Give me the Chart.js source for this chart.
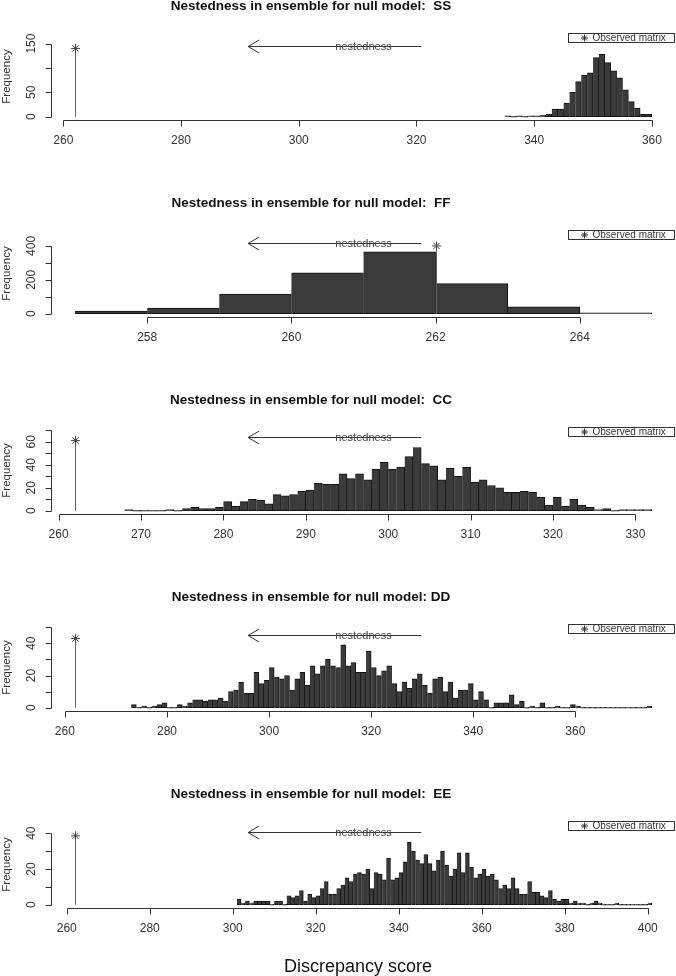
<!DOCTYPE html>
<html>
<head>
<meta charset="utf-8">
<title>Nestedness in ensemble</title>
<script src="https://cdn.jsdelivr.net/npm/chart.js@4.4.1/dist/chart.umd.min.js"></script>
<style>
  html, body { margin: 0; padding: 0; background: #fff; overflow: hidden; }
  #wrap { position: relative; width: 676px; height: 976px; }
  #wrap canvas { position: absolute; left: 0; }
</style>
</head>
<body>
<div id="wrap"></div>
<script>
// One histogram panel per null model
const models = ['SS', 'FF', 'CC', 'DD', 'EE'];
const titleGap = ['  ', '  ', '  ', ' ', '  '];

// Histogram counts, bins one unit wide, first bin starts at binStart
const binStart = [335, 257, 268, 273, 301];
const ssCounts = [1, 0, 1, 0, 1, 2, 3, 5, 16, 16, 28, 50, 72, 85, 90, 121, 128, 111, 94, 80, 55, 31, 18, 5, 5];
const ffCounts = [16, 34, 116, 241, 365, 178, 41, 5];
const ccCounts = [1, 0, 0, 0, 0, 1, 0, 2, 3, 2,
                  2, 3, 8, 4, 8, 10, 9, 6, 14, 13,
                  14, 17, 18, 24, 23, 23, 32, 28, 32, 27,
                  36, 42, 36, 38, 47, 55, 41, 39, 27, 37,
                  30, 38, 25, 27, 22, 20, 16, 16, 17, 16,
                  12, 5, 12, 4, 10, 5, 3, 1, 2, 0,
                  1, 1, 1, 1];
const ddCounts = [2, 0, 1, 0, 1, 2, 3, 0, 0, 2,
                  1, 3, 5, 5, 4, 5, 5, 6, 4, 10,
                  11, 16, 9, 9, 22, 15, 17, 25, 19, 18,
                  20, 11, 18, 22, 14, 26, 21, 26, 30, 26,
                  25, 39, 26, 28, 22, 22, 35, 25, 20, 23,
                  26, 15, 10, 16, 12, 18, 21, 14, 9, 18,
                  19, 10, 16, 6, 11, 11, 15, 5, 10, 5,
                  0, 3, 3, 3, 8, 2, 4, 0, 1, 0,
                  3, 0, 0, 1, 0, 0, 2, 1, 0, 0,
                  0, 0, 0, 0, 0, 0, 0, 0, 0, 0,
                  0, 1];
const eeCounts = [3, 1, 2, 1, 2, 2, 2, 2, 0, 2,
                  2, 0, 5, 4, 5, 8, 2, 6, 4, 5,
                  9, 13, 6, 6, 9, 11, 15, 13, 17, 18,
                  17, 20, 9, 18, 17, 14, 26, 14, 15, 18,
                  24, 35, 30, 25, 23, 28, 23, 19, 25, 30,
                  22, 16, 20, 29, 18, 29, 21, 15, 17, 20,
                  16, 17, 14, 9, 11, 9, 15, 9, 6, 6,
                  13, 7, 7, 5, 4, 8, 3, 2, 3, 3,
                  1, 2, 1, 1, 0, 1, 2, 1, 0, 0,
                  0, 1, 0, 0, 0, 0, 0, 0, 0, 1];
const allCounts = [ssCounts, ffCounts, ccCounts, ddCounts, eeCounts];

// Observed matrix score, marker height and the "nestedness" arrow
const observed = 262;
const observedHeight = [140, 400, 61, 43, 38.5];
const arrowHeight = [145, 420, 64, 45, 40.5];
const arrowFrom = [320.8, 261.8, 304, 329.8, 345.4];
const arrowTo = [291.4, 259.4, 283, 295.9, 303.7];
const arrowLabelAt = [311, 261, 297, 318.5, 331.5];

// Axis limits and ticks
const xLimits = [[262, 360], [257, 265], [262, 332], [262, 375], [262, 401]];
const yLimits = [165, 475, 70, 50, 45];
const xTicks = [
  [260, 280, 300, 320, 340, 360],
  [258, 260, 262, 264],
  [260, 270, 280, 290, 300, 310, 320, 330],
  [260, 280, 300, 320, 340, 360],
  [260, 280, 300, 320, 340, 360, 380, 400]
];
const yTicks = [
  [0, 50, 100, 150],
  [0, 100, 200, 300, 400],
  [0, 10, 20, 30, 40, 50, 60, 70],
  [0, 10, 20, 30, 40, 50],
  [0, 10, 20, 30, 40]
];
const yTickLabels = [
  ['0', '50', '', '150'],
  ['0', '', '200', '', '400'],
  ['0', '', '20', '', '40', '', '60', ''],
  ['0', '', '20', '', '40', ''],
  ['0', '', '20', '', '40']
];

const FONT = '"Liberation Sans", Arial, sans-serif';
const PANEL_H = 197;

function asterisk(ctx, x, y, r) {
  ctx.beginPath();
  ctx.moveTo(x - r, y); ctx.lineTo(x + r, y);
  ctx.moveTo(x, y - r); ctx.lineTo(x, y + r);
  ctx.moveTo(x - r * 0.7, y - r * 0.7); ctx.lineTo(x + r * 0.7, y + r * 0.7);
  ctx.moveTo(x - r * 0.7, y + r * 0.7); ctx.lineTo(x + r * 0.7, y - r * 0.7);
  ctx.stroke();
}

// R style axes, titles, marker, arrow and legend
const rStyle = {
  id: 'rStyle',
  afterDatasetsDraw(chart, args, opts) {
    const p = opts.panel;
    const ctx = chart.ctx;
    const xs = chart.scales.x, ys = chart.scales.y;
    const area = chart.chartArea;
    ctx.save();
    ctx.lineWidth = 1;
    ctx.strokeStyle = '#333';
    ctx.fillStyle = '#333';

    // x axis
    const xt = xTicks[p];
    const xb = Math.round(area.bottom) + 0.5;
    ctx.beginPath();
    ctx.moveTo(Math.round(xs.getPixelForValue(xt[0])) + 0.5, xb);
    ctx.lineTo(Math.round(xs.getPixelForValue(xt[xt.length - 1])) + 0.5, xb);
    xt.forEach(v => {
      const px = Math.round(xs.getPixelForValue(v)) + 0.5;
      ctx.moveTo(px, xb);
      ctx.lineTo(px, xb + 6);
    });
    ctx.stroke();
    ctx.font = '12px ' + FONT;
    ctx.textAlign = 'center';
    ctx.textBaseline = 'middle';
    xt.forEach(v => ctx.fillText(String(v), xs.getPixelForValue(v), area.bottom + 21));

    // y axis
    const yt = yTicks[p];
    const yl = Math.round(area.left) - 0.5;
    ctx.beginPath();
    ctx.moveTo(yl, Math.round(ys.getPixelForValue(yt[0])) + 0.5);
    ctx.lineTo(yl, Math.round(ys.getPixelForValue(yt[yt.length - 1])) + 0.5);
    yt.forEach(v => {
      const py = Math.round(ys.getPixelForValue(v)) + 0.5;
      ctx.moveTo(yl, py);
      ctx.lineTo(yl - 6, py);
    });
    ctx.stroke();
    yt.forEach((v, i) => {
      if (!yTickLabels[p][i]) return;
      ctx.save();
      ctx.translate(area.left - 20, ys.getPixelForValue(v));
      ctx.rotate(-Math.PI / 2);
      ctx.fillText(yTickLabels[p][i], 0, 0);
      ctx.restore();
    });
    ctx.save();
    ctx.font = '11.5px ' + FONT;
    ctx.translate(7, (area.top + area.bottom) / 2);
    ctx.rotate(-Math.PI / 2);
    ctx.fillText('Frequency', 0, 0);
    ctx.restore();

    // title
    ctx.fillStyle = '#111';
    ctx.font = 'bold 13.5px ' + FONT;
    ctx.fillText('Nestedness in ensemble for null model:' + titleGap[p] + models[p], 311, Math.max(area.top - 27, 6));

    // observed matrix marker
    const ox = Math.round(xs.getPixelForValue(observed)) + 0.5;
    const oy = ys.getPixelForValue(observedHeight[p]);
    ctx.strokeStyle = '#666';
    ctx.beginPath();
    ctx.moveTo(ox, ys.getPixelForValue(0));
    ctx.lineTo(ox, oy);
    ctx.stroke();
    ctx.strokeStyle = '#444';
    asterisk(ctx, ox, oy, 4.5);

    // nestedness arrow
    const ay = Math.round(ys.getPixelForValue(arrowHeight[p])) + 0.5;
    const a0 = xs.getPixelForValue(arrowFrom[p]);
    const a1 = xs.getPixelForValue(arrowTo[p]);
    ctx.strokeStyle = '#333';
    ctx.beginPath();
    ctx.moveTo(a0, ay);
    ctx.lineTo(a1, ay);
    ctx.moveTo(a1 + 11, ay - 6.5);
    ctx.lineTo(a1, ay);
    ctx.lineTo(a1 + 11, ay + 6.5);
    ctx.stroke();
    ctx.fillStyle = '#444';
    ctx.font = '11px ' + FONT;
    ctx.fillText('nestedness', xs.getPixelForValue(arrowLabelAt[p]), ay);

    // legend
    const lr = Math.round(area.right) - 0.5;
    const lt = Math.round(area.top) + 0.5;
    ctx.strokeStyle = '#333';
    ctx.strokeRect(lr - 106, lt, 106, 9);
    ctx.strokeStyle = '#333';
    asterisk(ctx, lr - 90, lt + 4.5, 3.5);
    ctx.fillStyle = '#333';
    ctx.font = '10px ' + FONT;
    ctx.textAlign = 'left';
    ctx.fillText('Observed matrix', lr - 82, lt + 5);

    // outer x label
    if (p === models.length - 1) {
      ctx.fillStyle = '#111';
      ctx.textAlign = 'center';
      ctx.font = '18px ' + FONT;
      ctx.fillText('Discrepancy score', 358, area.bottom + 59);
    }
    ctx.restore();
  }
};

const wrap = document.getElementById('wrap');
models.forEach((m, p) => {
  const canvas = document.createElement('canvas');
  canvas.width = 676;
  canvas.height = PANEL_H;
  canvas.style.top = (p * PANEL_H) + 'px';
  wrap.appendChild(canvas);

  const [x0, x1] = xLimits[p];
  const xPad = 0.04 * (x1 - x0);
  const M = yLimits[p];

  new Chart(canvas, {
    type: 'bar',
    data: {
      datasets: [{
        label: m,
        data: allCounts[p].map((c, i) => ({ x: binStart[p] + i + 0.5, y: c })),
        backgroundColor: '#3b3b3b',
        borderColor: '#111',
        borderWidth: 1,
        borderSkipped: 'left',
        minBarLength: 1,
        barPercentage: 1,
        categoryPercentage: 1,
        grouped: false
      }]
    },
    options: {
      responsive: false,
      maintainAspectRatio: false,
      animation: false,
      events: [],
      layout: { padding: { left: 52, right: 1, top: 33, bottom: 77 } },
      scales: {
        x: { type: 'linear', display: false, offset: false, min: x0 - xPad, max: x1 + xPad, ticks: { stepSize: 1000 } },
        y: { type: 'linear', display: false, min: -0.04 * M, max: 1.04 * M }
      },
      plugins: {
        legend: { display: false },
        title: { display: false },
        tooltip: { enabled: false },
        rStyle: { panel: p }
      }
    },
    plugins: [rStyle]
  });
});
</script>
</body>
</html>
